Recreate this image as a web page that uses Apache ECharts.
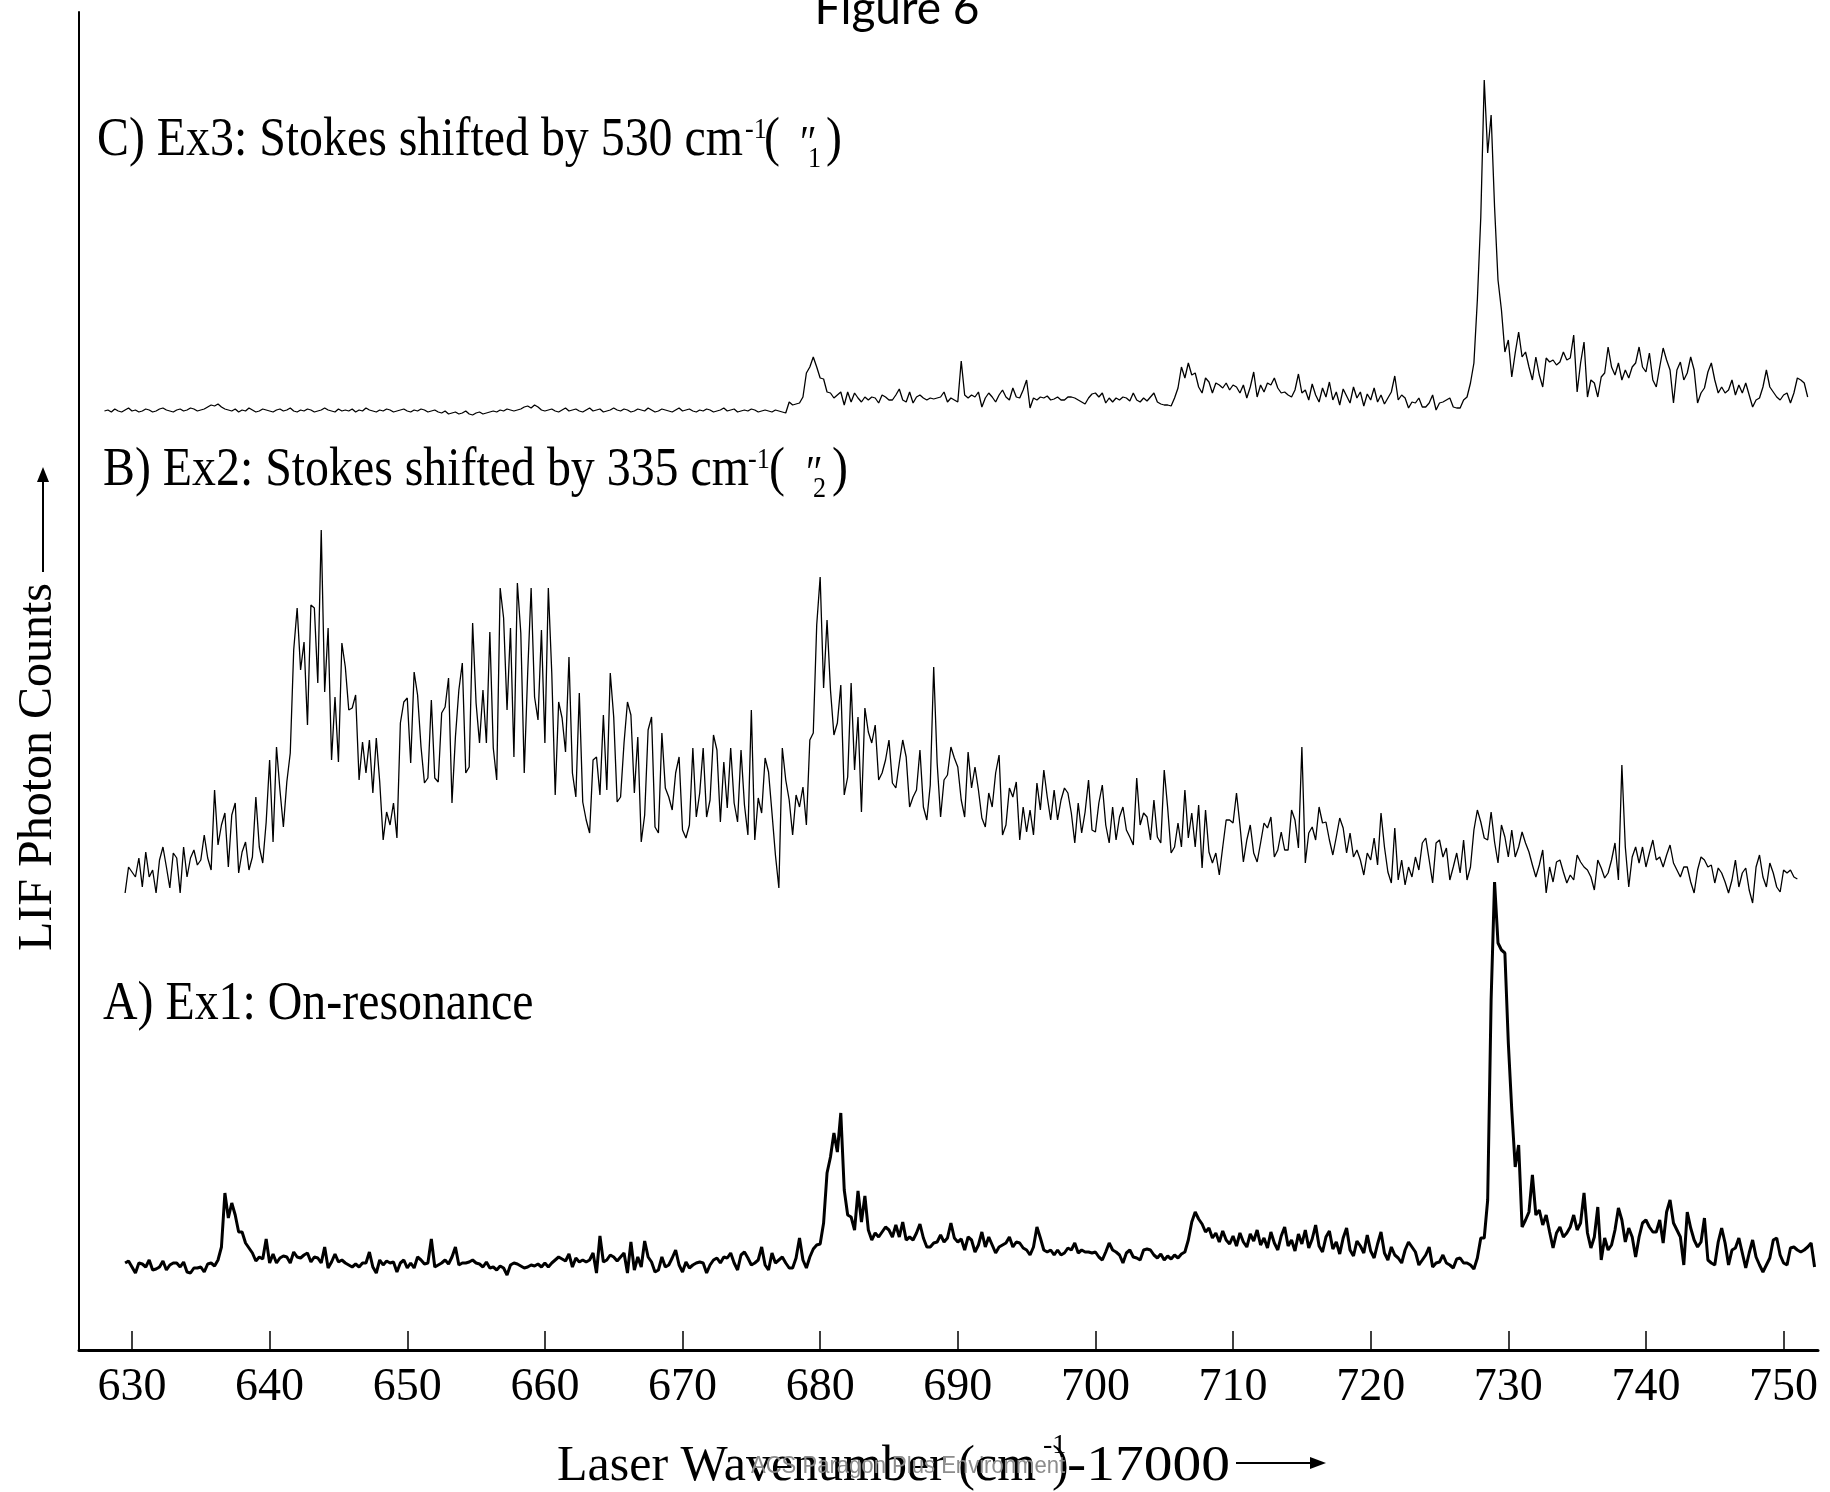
<!DOCTYPE html>
<html>
<head>
<meta charset="UTF-8">
<script src="https://cdn.jsdelivr.net/npm/echarts@6/dist/echarts.min.js"></script>
<title>Figure 6</title>
</head>
<body style="margin:0;background:#fff">
<div id="main" style="width:1830px;height:1492px"></div>
<script>
var step = 0.25;
var startA = 629.5, startB = 629.5, startC = 628.0;
var xTicks = [630, 640, 650, 660, 670, 680, 690, 700, 710, 720, 730, 740, 750];

// A) Ex1: On-resonance
var traceA = [
  87,89,83,77,87,86,83,90,80,81, 83,89,80,85,87,87,83,88,78,77,
  82,82,83,78,86,87,84,90,103,157, 132,147,135,118,118,107,102,97,89,93,
  91,111,87,96,87,92,94,93,87,98, 93,92,95,97,88,93,92,87,103,82,
  88,96,88,90,87,85,83,86,83,87, 87,98,83,77,90,85,89,87,88,78,
  87,90,82,87,82,93,90,86,87,111, 83,85,87,90,86,93,103,85,87,87,
  88,90,87,86,83,88,82,83,80,84, 82,75,85,87,86,84,82,83,85,84,
  86,83,87,83,87,90,93,91,89,96, 83,92,88,90,88,90,97,77,114,88,
  90,95,93,89,93,97,77,
  108,80,93,83,109,93,88,78,80,93, 83,85,92,100,85,78,88,82,85,87,
  88,87,77,85,90,92,87,93,92,97, 87,80,95,98,92,85,87,90,103,85,
  80,97,87,90,93,87,82,82,92,112, 90,82,93,101,105,106,127,177,193,217,
  198,237,160,135,133,120,159,128,154,120, 110,117,113,118,123,120,113,125,113,128,
  110,113,110,117,126,112,103,103,107,108, 115,108,112,127,112,108,111,100,113,110,
  98,105,118,103,113,105,97,103,105,107, 113,103,108,107,102,100,95,103,123,112,
  100,98,100,95,100,95,97,102,100,107, 97,100,98,98,97,98,93,90,98,107,
  100,98,95,87,97,100,93,92,90,100, 101,100,
  95,92,96,90,94,91,95,92,96,98, 110,128,138,131,126,118,122,112,117,108,
  119,110,106,114,104,117,108,103,116,109, 120,105,112,102,118,107,100,114,123,104,
  110,99,116,106,120,102,111,125,104,98, 113,119,101,108,96,112,122,100,94,109,
  104,97,115,99,92,106,118,97,90,103, 95,92,
  87,100,108,103,98,85,90,95,103,83, 87,88,95,87,85,82,91,92,87,87,
  85,81,92,112,112,150,350,468,407,400, 397,307,240,183,205,123,130,138,175,135,
  140,125,135,118,102,117,123,113,117,123, 135,120,127,157,117,102,113,143,90,112,
  100,105,120,142,130,108,122,113,93,113, 127,130,123,118,118,130,107,138,150,127,
  120,113,85,138,122,110,103,108,132,90, 87,85,108,122,107,85,100,102,112,97,
  82,97,110,93,85,78,85,92,110,112, 95,87,85,102,103,100,98,100,103,107,83
];

// B) Ex2: Stokes shifted by 335 cm-1
var traceB = [
  457,483,478,473,492,463,498,473,480,457, 490,503,483,462,497,492,457,503,473,492,
  500,485,490,515,492,480,560,505,525,537, 483,535,547,477,498,508,480,493,553,503,
  487,528,590,508,603,560,523,568,597,700, 742,680,708,625,745,742,667,820,658,722,
  590,653,588,707,683,640,642,655,570,608, 577,610,557,612,568,510,538,525,547,512,
  627,648,652,587,678,655,603,567,572,650, 572,568,637,643,672,547,613,660,687,577,
  583,727,647,607,660,607,718,602,570,762, 732,640,722,593,767,717,577,677,762,653,
  630,720,607,762,677,555,648,632,598,693, 577,553,657,548,530,517,590,593,555,635,
  560,677,633,548,553,607,648,
  635,557,613,508,535,620,633,523,517,617, 562,553,540,577,593,520,512,525,602,533,
  557,602,533,550,615,600,528,588,542,602, 547,528,600,545,515,640,510,552,537,592,
  578,537,495,462,602,570,550,515,555,543, 563,525,610,617,725,773,662,730,660,615,
  627,665,555,573,667,580,633,538,642,618, 607,625,570,577,590,610,567,562,587,610,
  593,543,553,560,600,543,530,565,683,587, 533,570,575,603,592,583,550,533,598,562,
  583,560,532,523,557,543,577,595,515,525, 562,553,568,510,543,518,540,515,567,540,
  580,553,530,560,530,550,562,557,537,507, 547,517,538,570,520,518,547,565,525,507,
  543,510,533,543,520,513,505,572,525,537, 533,510,
  550,513,507,580,542,497,503,527,503,560, 512,537,503,545,482,540,498,487,497,475,
  503,530,530,527,557,525,488,510,525,497, 488,507,527,522,533,493,500,518,500,500,
  540,530,502,603,487,517,523,510,543,527, 528,510,495,513,532,522,497,517,493,500,
  490,475,497,490,512,485,537,503,478,467, 522,470,490,465,483,473,493,480,507,512,
  490,467,507,510,493,502,470,483,497,477, 510,470,483,520,540,528,512,510,538,508,
  487,525,513,493,520,493,503,518,507,498, 485,473,485,500,457,483,468,488,490,478,
  467,475,470,495,488,483,480,473,460,490, 482,472,477,490,507,470,585,503,463,493,
  503,487,503,483,497,510,490,493,483,495,505,
  487,480,473,483,483,468,457,480,493,490, 483,485,467,482,477,468,457,470,490,463,
  477,482,460,447,483,495,473,463,487,477, 463,458,480,477,480,473,471
];

// C) Ex3: Stokes shifted by 530 cm-1
var traceC = [
  939,940,938,941,939,938,940,942,939,940, 938,939,941,940,938,939,941,942,940,939,
  938,940,941,939,940,942,941,939,940,941, 943,945,944,946,943,941,940,939,941,938,
  940,939,942,940,938,939,941,940,939,938, 940,941,939,940,942,939,938,940,939,941,
  940,938,939,940,942,940,939,938,941,939, 940,939,941,938,940,939,942,940,939,938,
  940,939,941,940,938,939,940,941,939,938, 940,939,941,940,938,939,940,938,937,939,
  936,937,938,936,937,939,936,935,937,938, 936,937,938,939,938,940,939,941,940,939,
  940,941,943,944,942,945,943,940,939,940, 941,939,938,940,942,939,940,941,939,938,
  940,942,939,940,941,938,939,940,942,940, 939,941,940,938,939,941,940,939,942,940,
  938,939,941,940,939,938,940,942,939,940, 941,939,938,940,939,941,940,938,939,940,
  942,939,940,941,938,939,940,939,941,940, 938,939,940,939,938,940,939,
  938,937,948,945,946,947,953,977,983,993, 983,972,971,958,957,952,955,958,945,958,
  948,957,952,948,953,950,953,952,947,955, 953,950,950,955,961,950,948,958,947,953,
  955,952,950,952,951,952,953,958,948,952, 950,948,989,955,952,955,953,958,943,952,
  957,953,948,955,960,953,950,962,953,952, 960,970,942,952,950,953,952,954,950,951,
  953,950,950,953,953,952,950,948,946,952, 956,957,953,957,947,952,948,952,950,953,
  952,949,957,950,948,952,949,953,957,948, 946,945,945,944,952,962,983,972,987,975,
  977,963,957,972,968,957,967,965,962,967, 960,965,963,957,965,952,963,978,953,965,
  958,967,965,972,962,957,958,955,953,960, 976,957,
  960,950,966,955,948,962,953,968,950,958, 945,961,954,947,963,952,958,944,956,950,
  962,948,955,946,952,958,974,950,
  955,952,942,948,947,952,943,943,947,955, 940,947,948,950,952,943,942,942,950,953,
  967,987,1050,1133,1270,1197,1235,1143,1070,1040, 998,1010,973,997,1018,993,998,983,970,993,
  975,963,992,988,990,985,988,998,990,992, 1015,958,987,1008,953,970,967,953,973,977,
  1003,983,975,987,970,980,972,983,987,1003, 983,978,997,970,963,983,1002,990,980,947,
  980,988,970,977,993,980,947,957,962,978, 987,970,957,963,957,960,970,955,965,957,
  967,955,943,950,952,963,980,963,958,953, 950,955,957,947,957,972,970,967,953
];

function pairs(start, vals) {
  return vals.map(function (v, i) { return [start + i * step, v]; });
}

var serif = '"Liberation Serif", "Times New Roman", serif';
var sx = 0.87; // the figure's lettering is a little condensed

function txt(x, y, s, size, opt) {
  opt = opt || {};
  return {
    type: 'text', x: x, y: y, scaleX: opt.scaleX || sx, rotation: opt.rotation || 0,
    silent: true, z: opt.z || 10,
    style: {
      text: s, font: size + 'px ' + (opt.family || serif), fill: opt.color || '#000',
      textAlign: opt.align || 'left', textVerticalAlign: 'middle'
    }
  };
}

var chart = echarts.init(document.getElementById('main'));
var option = {
  backgroundColor: '#fff',
  animation: false,
  grid: { left: 79, right: 12, top: 12, bottom: 142 },
  xAxis: {
    type: 'value', min: 626.15, max: 752.5,
    axisLine: { lineStyle: { color: '#000', width: 3 } },
    axisTick: { customValues: xTicks, inside: true, length: 19, lineStyle: { color: '#000', width: 1.5 } },
    axisLabel: { customValues: xTicks, fontFamily: serif, fontSize: 46, color: '#000', margin: 15 },
    splitLine: { show: false }
  },
  yAxis: {
    type: 'value', min: 0, max: 1338,
    axisLine: { show: true, lineStyle: { color: '#000', width: 2 } },
    axisTick: { show: false }, axisLabel: { show: false }, splitLine: { show: false }
  },
  series: [
    { name: 'A', type: 'line', data: pairs(startA, traceA), symbol: 'none', silent: true,
      lineStyle: { color: '#000', width: 3 } },
    { name: 'B', type: 'line', data: pairs(startB, traceB), symbol: 'none', silent: true,
      lineStyle: { color: '#000', width: 1.3 } },
    { name: 'C', type: 'line', data: pairs(startC, traceC), symbol: 'none', silent: true,
      lineStyle: { color: '#000', width: 1.3 } }
  ],
  graphic: [
    txt(897, 9, 'Figure 6', 46, { family: 'Lato, sans-serif', align: 'center', scaleX: 1 }),

    txt(97, 141, 'C) Ex3: Stokes shifted by 530 cm', 55),
    txt(745, 130, '-1', 30),
    txt(764, 141, '(', 55),
    txt(800, 146, '\u2033', 46),
    txt(808, 159, '1', 30),
    txt(826, 141, ')', 55),

    txt(103, 471, 'B) Ex2: Stokes shifted by 335 cm', 55),
    txt(748, 460, '-1', 30),
    txt(769, 471, '(', 55),
    txt(806, 476, '\u2033', 46),
    txt(813, 489, '2', 30),
    txt(832, 471, ')', 55),

    txt(103, 1005, 'A) Ex1: On-resonance', 55),

    txt(38, 767, 'LIF Photon Counts', 48, { align: 'center', rotation: Math.PI / 2, scaleX: 1 }),
    { type: 'line', silent: true, shape: { x1: 43, y1: 572, x2: 43, y2: 480 }, style: { stroke: '#000', lineWidth: 2 } },
    { type: 'polygon', silent: true, shape: { points: [[43, 467], [37, 482], [49, 482]] }, style: { fill: '#000' } },

    txt(557, 1467, 'Laser Wavenumber (cm', 50, { scaleX: 1 }),
    txt(1043, 1446, '-1', 28, { scaleX: 1 }),
    txt(1052, 1467, ')', 50, { scaleX: 1 }),
    txt(1067, 1467, '-17000', 50, { scaleX: 1.15 }),
    { type: 'line', silent: true, shape: { x1: 1236, y1: 1463, x2: 1312, y2: 1463 }, style: { stroke: '#000', lineWidth: 2 } },
    { type: 'polygon', silent: true, shape: { points: [[1326, 1463], [1310, 1457], [1310, 1469]] }, style: { fill: '#000' } },

    // watermark printed over the axis title
    txt(908, 1466, 'ACS Paragon Plus Environment', 24, { family: '"Liberation Sans", sans-serif', align: 'center', color: '#8c8c8c', scaleX: 0.92, z: 20 })
  ]
};
chart.setOption(option);
</script>
</body>
</html>
